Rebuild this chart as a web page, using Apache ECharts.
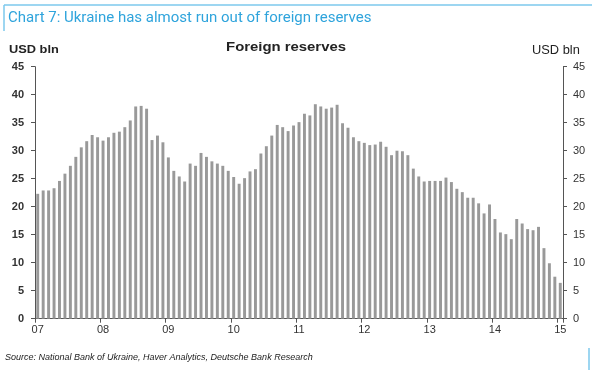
<!DOCTYPE html>
<html>
<head>
<meta charset="utf-8">
<script src="https://cdn.jsdelivr.net/npm/echarts@6/dist/echarts.min.js"></script>
<style>
html,body{margin:0;padding:0;background:#fff;}
#chart{width:592px;height:370px;}
</style>
</head>
<body>
<div id="chart"></div>
<script>
// Monthly foreign reserves, USD bln, Jan 2007 - Jan 2015
const years = ['07','08','09','10','11','12','13','14','15'];
const values2007 = [22.3, 22.9, 22.9, 23.3, 24.6, 25.9, 27.3, 28.9, 30.6, 31.7, 32.8, 32.4];
const values2008 = [31.8, 32.4, 33.2, 33.4, 34.2, 35.4, 37.9, 38.0, 37.5, 31.9, 32.7, 31.5];
const values2009 = [28.8, 26.4, 25.4, 24.5, 27.7, 27.3, 29.6, 28.9, 28.1, 27.7, 27.3, 26.4];
const values2010 = [25.3, 24.1, 25.1, 26.3, 26.7, 29.5, 30.8, 32.7, 34.6, 34.2, 33.5, 34.5];
const values2011 = [35.1, 36.6, 36.3, 38.3, 37.9, 37.5, 37.7, 38.2, 34.9, 34.1, 32.4, 31.7];
const values2012 = [31.4, 31.0, 31.1, 31.6, 30.7, 29.2, 30.0, 29.9, 29.2, 26.8, 25.4, 24.5];
const values2013 = [24.6, 24.6, 24.6, 25.2, 24.4, 23.2, 22.6, 21.6, 21.6, 20.6, 18.8, 20.4];
const values2014 = [17.8, 15.4, 15.1, 14.2, 17.8, 17.0, 16.0, 15.8, 16.4, 12.6, 9.9, 7.5];
const values2015 = [6.4];
const yTicks = [0, 5, 10, 15, 20, 25, 30, 35, 40, 45];

const yearlyValues = [values2007, values2008, values2009, values2010, values2011,
                      values2012, values2013, values2014, values2015];
const categories = [];
const reserves = [];
yearlyValues.forEach((arr, yi) => {
  arr.forEach((v, mi) => {
    categories.push(years[yi] + '-' + String(mi + 1).padStart(2, '0'));
    reserves.push(v);
  });
});

const chart = echarts.init(document.getElementById('chart'), null, {renderer: 'canvas'});
const axisColor = '#555';
const font = 'Liberation Sans, Arial, sans-serif';

const yAxisBase = {
  type: 'value',
  min: yTicks[0],
  max: yTicks[yTicks.length - 1],
  interval: yTicks[1] - yTicks[0],
  splitLine: {show: false},
  axisLine: {show: true, lineStyle: {color: axisColor, width: 1}},
  axisTick: {show: true, length: 4, lineStyle: {color: axisColor}},
};

function label(text, x, y, fontStr, sx, align) {
  return {
    type: 'text', x: x, y: y, scaleX: sx,
    style: {text: text, fill: '#222', font: fontStr, align: align || 'left', verticalAlign: 'top'}
  };
}

chart.setOption({
  animation: false,
  backgroundColor: '#fff',
  grid: {left: 35, right: 29, top: 66.7, bottom: 51.3, containLabel: false},
  xAxis: {
    type: 'category',
    data: categories,
    boundaryGap: true,
    axisLine: {lineStyle: {color: axisColor, width: 1}},
    axisTick: {
      show: true, length: 4, lineStyle: {color: axisColor},
      interval: (i) => i % 12 === 0
    },
    axisLabel: {
      interval: (i) => i % 12 === 0,
      formatter: (v) => v.slice(0, 2),
      color: '#333', fontSize: 11, fontFamily: font, margin: 6
    }
  },
  yAxis: [
    Object.assign({}, yAxisBase, {
      position: 'left',
      axisLabel: {color: '#333', fontSize: 11, fontWeight: 'bold', fontFamily: font, margin: 11}
    }),
    Object.assign({}, yAxisBase, {
      position: 'right',
      axisLabel: {color: '#333', fontSize: 11, fontFamily: font, margin: 10}
    })
  ],
  series: [{
    type: 'bar',
    data: reserves,
    yAxisIndex: 0,
    barWidth: '54%',
    itemStyle: {color: '#999999'}
  }],
  graphic: [
    {type: 'line', shape: {x1: 4, y1: 5, x2: 592, y2: 5}, style: {stroke: '#7cc8ec', lineWidth: 1.5}},
    {type: 'line', shape: {x1: 4, y1: 5, x2: 4, y2: 31}, style: {stroke: '#7cc8ec', lineWidth: 1.5}},
    {type: 'line', shape: {x1: 589, y1: 348, x2: 589, y2: 370}, style: {stroke: '#7cc8ec', lineWidth: 1.5}},
    {type: 'text', left: 8, top: 11, style: {text: 'Chart 7: Ukraine has almost run out of foreign reserves',
      fill: '#2fa4dc', font: '15px Roboto, sans-serif'}},
    label('USD bln', 9, 45, 'bold 10px ' + font, 1.28),
    label('USD bln', 532, 45, '12px ' + font, 1.07),
    label('Foreign reserves', 286, 42, 'bold 12px ' + font, 1.24, 'center'),
    label('Source: National Bank of Ukraine, Haver Analytics, Deutsche Bank Research', 5, 353,
      'italic 9px ' + font, 1.0)
  ]
});
</script>
</body>
</html>
